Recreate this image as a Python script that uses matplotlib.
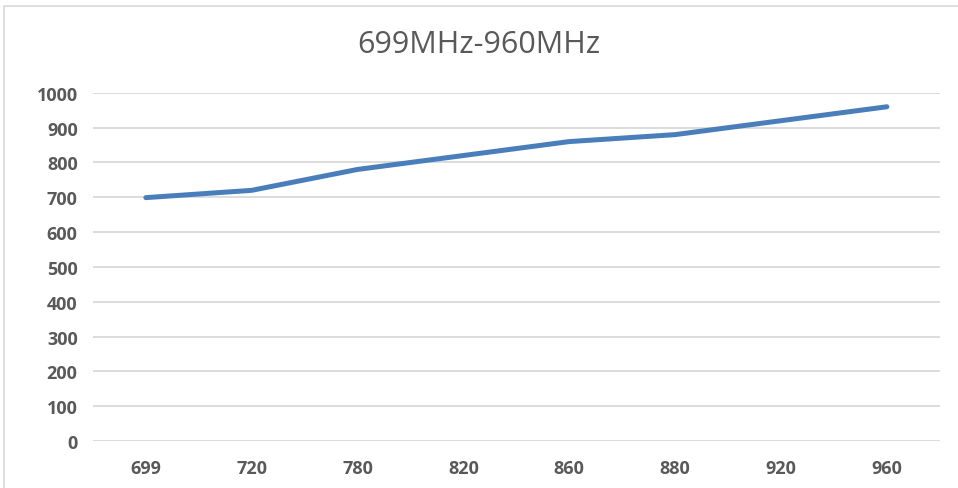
import matplotlib.pyplot as plt
from matplotlib.patches import Rectangle

# Chart data
categories = ['699', '720', '780', '820', '860', '880', '920', '960']
values = [699, 720, 780, 820, 860, 880, 920, 960]
yticks = [0, 100, 200, 300, 400, 500, 600, 700, 800, 900, 1000]

textColor = '#595959'

fig = plt.figure(figsize=(9.58, 4.89), dpi=100)
ax = fig.add_axes([0.097, 0.0961, 0.884, 0.712])

# chart border (light gray frame like Excel)
fig.patches.append(Rectangle((0.004, -0.01), 1.1, 0.996, transform=fig.transFigure,
                             fill=False, edgecolor='#d9d9d9', linewidth=1.2))

x = list(range(len(categories)))
ax.plot(x, values, color='#4a7ebb', linewidth=3.6, solid_capstyle='round', zorder=3)

ax.set_xlim(-0.5, len(categories) - 0.5)
ax.set_ylim(0, 1000)
ax.set_yticks(yticks)
ax.set_xticks(x)
ax.set_xticklabels(categories)
ax.grid(axis='y', color='#d9d9d9', linewidth=1.3)
ax.set_axisbelow(True)
for s in ax.spines.values():
    s.set_visible(False)
ax.tick_params(length=0, labelsize=13, labelcolor=textColor)
ax.tick_params(axis='x', pad=13)
ax.tick_params(axis='y', pad=11)
for lbl in ax.get_xticklabels() + ax.get_yticklabels():
    lbl.set_fontweight('bold')
    lbl.set_fontfamily('Open Sans')

fig.text(0.5, 0.908, '699MHz-960MHz', ha='center', va='center', fontsize=22,
         color=textColor, family='Open Sans')

fig.savefig('out.png', dpi=100)
